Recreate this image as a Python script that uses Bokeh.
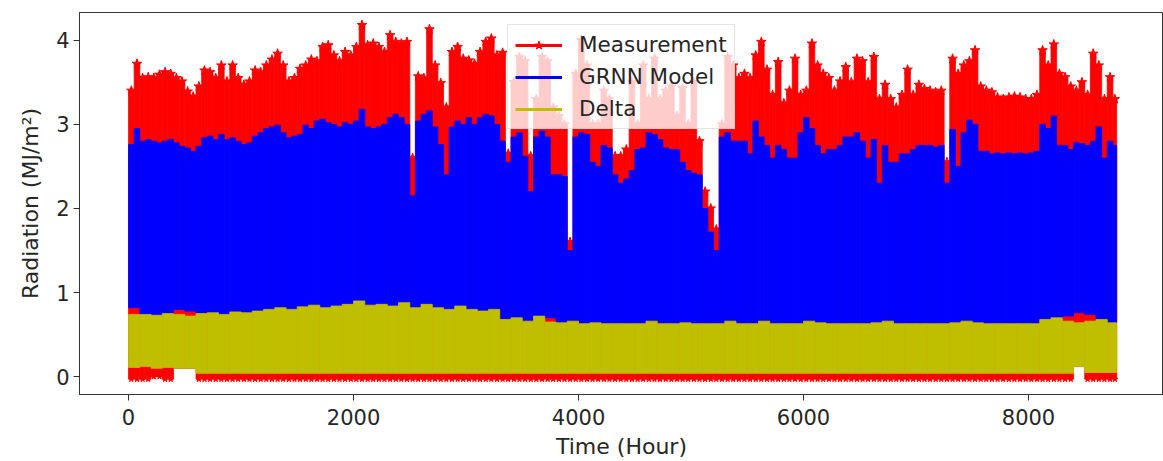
import numpy as np
from bokeh.plotting import figure
from bokeh.models import Range1d, FixedTicker, Legend, LegendItem, ColumnDataSource
from bokeh.embed import file_html
from bokeh.resources import INLINE

# ---------------- data ----------------
N_HOURS = 8784          # hourly samples over one year
FINE_BIN = 50           # hours per value in the *_peak arrays
COARSE_BIN = 100        # hours per value in the lower-band arrays

# Measurement: highest value in each 50-hour block (MJ/m^2)
meas_peak = [
    3.40, 3.72, 3.55, 3.56, 3.55, 3.59, 3.62, 3.60, 3.55, 3.51,
    3.39, 3.33, 3.45, 3.64, 3.62, 3.55, 3.70, 3.51, 3.70, 3.55,
    3.47, 3.51, 3.64, 3.62, 3.70, 3.77, 3.84, 3.70, 3.51, 3.55,
    3.66, 3.70, 3.77, 3.75, 3.92, 3.94, 3.82, 3.75, 3.86, 3.82,
    3.92, 4.18, 3.94, 3.96, 3.92, 3.86, 4.06, 3.98, 3.96, 3.98,
    2.60, 3.57, 3.55, 4.13, 3.70, 3.49, 3.20, 3.86, 3.92, 3.78,
    3.76, 3.72, 3.86, 3.98, 4.02, 3.82, 3.85, 2.65, 3.50, 3.80,
    3.75, 2.62, 3.30, 3.80, 3.75, 3.20, 3.10, 3.00, 1.60, 3.60,
    4.00, 3.70, 3.00, 3.00, 3.40, 3.30, 2.62, 2.62, 2.70, 3.50,
    3.00, 3.70, 3.30, 3.78, 3.30, 3.40, 3.45, 3.10, 3.43, 3.00,
    3.50, 2.80, 2.20, 2.00, 1.75, 3.00, 3.80, 3.70, 3.55, 3.60,
    3.55, 3.82, 3.98, 3.65, 3.35, 3.74, 3.25, 3.40, 3.78, 3.35,
    3.40, 3.96, 3.70, 3.60, 3.55, 3.40, 3.51, 3.68, 3.50, 3.78,
    3.75, 3.50, 3.80, 3.30, 3.47, 3.30, 3.20, 3.35, 3.65, 3.35,
    3.47, 3.42, 3.40, 3.38, 3.40, 2.55, 3.78, 3.60, 3.70, 3.75,
    3.88, 3.45, 3.40, 3.38, 3.32, 3.30, 3.32, 3.33, 3.32, 3.30,
    3.30, 3.35, 3.88, 3.70, 3.95, 3.60, 3.56, 3.45, 3.40, 3.50,
    3.35, 3.84, 3.70, 3.30, 3.56, 3.30,
]

# GRNN model: highest value in each 50-hour block
model_peak = [
    2.76, 2.95, 2.80, 2.82, 2.80, 2.78, 2.80, 2.82, 2.78, 2.74,
    2.72, 2.68, 2.74, 2.84, 2.86, 2.82, 2.88, 2.82, 2.84, 2.80,
    2.76, 2.78, 2.86, 2.90, 2.95, 2.97, 2.99, 2.90, 2.84, 2.86,
    2.88, 2.99, 2.95, 3.04, 3.06, 3.02, 3.00, 2.97, 3.02, 3.00,
    3.04, 3.18, 2.97, 2.95, 2.97, 3.00, 3.08, 3.12, 3.08, 3.00,
    2.15, 3.04, 3.12, 3.16, 2.97, 2.76, 2.40, 2.97, 3.04, 3.00,
    3.08, 3.00, 3.08, 3.12, 3.10, 3.00, 2.80, 2.55, 2.85, 2.90,
    2.62, 2.20, 2.85, 2.92, 2.85, 2.40, 2.40, 2.38, 1.50, 2.85,
    2.90, 2.88, 2.55, 2.50, 2.75, 2.72, 2.40, 2.30, 2.35, 2.45,
    2.70, 2.72, 2.90, 2.88, 2.82, 2.72, 2.70, 2.70, 2.55, 2.45,
    2.42, 2.40, 2.00, 1.72, 1.50, 2.85, 2.90, 2.80, 2.80, 2.80,
    2.65, 3.04, 2.85, 2.75, 2.60, 2.75, 2.70, 2.60, 2.60, 2.90,
    3.08, 2.95, 2.75, 2.65, 2.70, 2.70, 2.75, 2.85, 2.85, 2.90,
    2.80, 2.60, 2.82, 2.30, 2.75, 2.55, 2.55, 2.65, 2.65, 2.70,
    2.75, 2.75, 2.75, 2.73, 2.75, 2.30, 2.94, 2.50, 2.90, 3.05,
    3.00, 2.68, 2.68, 2.65, 2.66, 2.65, 2.66, 2.65, 2.66, 2.65,
    2.66, 2.68, 3.00, 2.95, 3.10, 2.75, 2.75, 2.70, 2.78, 2.77,
    2.75, 2.80, 2.97, 2.60, 2.80, 2.75,
]

# GRNN model: lowest value in each 100-hour block
model_low = [
    0.82, 0.74, 0.73, 0.75, 0.80, 0.78, 0.75, 0.76, 0.74, 0.77,
    0.76, 0.78, 0.80, 0.82, 0.80, 0.83, 0.85, 0.82, 0.84, 0.86,
    0.90, 0.85, 0.86, 0.84, 0.88, 0.82, 0.86, 0.82, 0.80, 0.84,
    0.80, 0.78, 0.80, 0.68, 0.70, 0.66, 0.72, 0.70, 0.64, 0.66,
    0.63, 0.64, 0.63, 0.63, 0.63, 0.63, 0.66, 0.63, 0.63, 0.64,
    0.63, 0.63, 0.63, 0.66, 0.63, 0.63, 0.66, 0.63, 0.63, 0.63,
    0.66, 0.64, 0.63, 0.63, 0.63, 0.63, 0.64, 0.66, 0.63, 0.63,
    0.63, 0.63, 0.63, 0.64, 0.66, 0.64, 0.63, 0.63, 0.63, 0.63,
    0.63, 0.68, 0.70, 0.72, 0.76, 0.74, 0.68, 0.64,
]

# Delta: highest value in each 100-hour block
delta_peak = [
    0.74, 0.74, 0.73, 0.75, 0.74, 0.72, 0.75, 0.76, 0.74, 0.77,
    0.76, 0.78, 0.80, 0.82, 0.80, 0.83, 0.85, 0.82, 0.84, 0.86,
    0.90, 0.85, 0.86, 0.84, 0.88, 0.82, 0.86, 0.82, 0.80, 0.84,
    0.80, 0.78, 0.80, 0.68, 0.70, 0.66, 0.72, 0.65, 0.64, 0.66,
    0.63, 0.64, 0.63, 0.63, 0.63, 0.63, 0.66, 0.63, 0.63, 0.64,
    0.63, 0.63, 0.63, 0.66, 0.63, 0.63, 0.66, 0.63, 0.63, 0.63,
    0.66, 0.64, 0.63, 0.63, 0.63, 0.63, 0.64, 0.66, 0.63, 0.63,
    0.63, 0.63, 0.63, 0.64, 0.66, 0.64, 0.63, 0.63, 0.63, 0.63,
    0.63, 0.68, 0.70, 0.66, 0.64, 0.66, 0.68, 0.64,
]

# Delta: lowest value in each 100-hour block
delta_low = [
    0.11, 0.12, 0.10, 0.11, 0.10, 0.10, 0.04, 0.04, 0.04, 0.04,
    0.04, 0.04, 0.04, 0.04, 0.04, 0.04, 0.04, 0.04, 0.04, 0.04,
    0.04, 0.04, 0.04, 0.04, 0.04, 0.04, 0.04, 0.04, 0.04, 0.04,
    0.04, 0.04, 0.04, 0.04, 0.04, 0.04, 0.04, 0.04, 0.04, 0.04,
    0.04, 0.04, 0.04, 0.04, 0.04, 0.04, 0.04, 0.04, 0.04, 0.04,
    0.04, 0.04, 0.04, 0.04, 0.04, 0.04, 0.04, 0.04, 0.04, 0.04,
    0.04, 0.04, 0.04, 0.04, 0.04, 0.04, 0.04, 0.04, 0.04, 0.04,
    0.04, 0.04, 0.04, 0.04, 0.04, 0.04, 0.04, 0.04, 0.04, 0.04,
    0.04, 0.04, 0.04, 0.04, 0.12, 0.05, 0.05, 0.05,
]

# Measurement: lowest value in each 100-hour block
meas_low = [
    -0.03, -0.03, 0.00, -0.03, 0.10, 0.10, -0.03, -0.03, -0.03, -0.03,
    -0.03, -0.03, -0.03, -0.03, -0.03, -0.03, -0.03, -0.03, -0.03, -0.03,
    -0.03, -0.03, -0.03, -0.03, -0.03, -0.03, -0.03, -0.03, -0.03, -0.03,
    -0.03, -0.03, -0.03, -0.03, -0.03, -0.03, -0.03, -0.03, -0.03, -0.03,
    -0.03, -0.03, -0.03, -0.03, -0.03, -0.03, -0.03, -0.03, -0.03, -0.03,
    -0.03, -0.03, -0.03, -0.03, -0.03, -0.03, -0.03, -0.03, -0.03, -0.03,
    -0.03, -0.03, -0.03, -0.03, -0.03, -0.03, -0.03, -0.03, -0.03, -0.03,
    -0.03, -0.03, -0.03, -0.03, -0.03, -0.03, -0.03, -0.03, -0.03, -0.03,
    -0.03, -0.03, -0.03, -0.03, 0.12, -0.03, -0.03, -0.03,
]

x_ticks = [0, 2000, 4000, 6000, 8000]
y_ticks = [0, 1, 2, 3, 4]
series_labels = ["Measurement", "GRNN Model", "Delta"]

RED = "#ff0000"
BLUE = "#0000ff"
YELLOW = "#bfbf00"
FONT = "DejaVu Sans"
TXT = "#262626"
SPINE = "#333333"

# ---------------- build sources ----------------
n_fine = len(meas_peak)
f_left = np.arange(n_fine) * FINE_BIN
f_right = np.minimum(f_left + FINE_BIN, N_HOURS)
f_center = (f_left + f_right) / 2.0
coarse_idx = np.arange(n_fine) // (COARSE_BIN // FINE_BIN)

n_coarse = len(delta_peak)
c_left = np.arange(n_coarse) * COARSE_BIN
c_right = np.minimum(c_left + COARSE_BIN, N_HOURS)

meas_low_arr = np.array(meas_low)
model_low_arr = np.array(model_low)

meas_src = ColumnDataSource(dict(
    left=f_left, right=f_right, bottom=meas_low_arr[coarse_idx],
    top=np.array(meas_peak), xc=f_center,
))
model_src = ColumnDataSource(dict(
    left=f_left, right=f_right, bottom=model_low_arr[coarse_idx],
    top=np.array(model_peak),
))
delta_src = ColumnDataSource(dict(
    left=c_left, right=c_right, bottom=np.array(delta_low), top=np.array(delta_peak),
))
low_mask = meas_low_arr[coarse_idx] < 0.05
bottom_src = ColumnDataSource(dict(
    x=f_center[low_mask], y=meas_low_arr[coarse_idx][low_mask],
))

# ---------------- figure ----------------
p = figure(
    width=1163, height=461,
    output_backend="svg", toolbar_location=None,
    x_range=Range1d(-436, 9200), y_range=Range1d(-0.212, 4.33),
    min_border_left=79, min_border_right=0, min_border_top=12, min_border_bottom=64,
    background_fill_color="white", border_fill_color="white",
)
p.xgrid.visible = False
p.ygrid.visible = False
p.outline_line_color = SPINE
p.outline_line_width = 1

# Measurement band + star markers
p.quad(left="left", right="right", bottom="bottom", top="top", source=meas_src,
       fill_color=RED, line_color=RED, line_width=0.8)
p.scatter(x="xc", y="top", source=meas_src, marker="star", size=10,
          fill_color=RED, line_color=RED)
p.scatter(x="x", y="y", source=bottom_src, marker="star", size=6,
          fill_color=RED, line_color=RED)
# GRNN model band
p.quad(left="left", right="right", bottom="bottom", top="top", source=model_src,
       fill_color=BLUE, line_color=BLUE, line_width=0.8)
# Delta band
p.quad(left="left", right="right", bottom="bottom", top="top", source=delta_src,
       fill_color=YELLOW, line_color=YELLOW, line_width=0.8)

# legend proxies (a single NaN point: nothing is drawn in the plot area)
def proxy():
    return ColumnDataSource(dict(x=[float("nan")], y=[float("nan")]))

l_meas = p.line(x="x", y="y", source=proxy(), line_color=RED, line_width=3)
s_meas = p.scatter(x="x", y="y", source=proxy(), marker="star", size=12,
                   fill_color=RED, line_color=RED)
l_model = p.line(x="x", y="y", source=proxy(), line_color=BLUE, line_width=3)
l_delta = p.line(x="x", y="y", source=proxy(), line_color=YELLOW, line_width=3)

legend = Legend(
    items=[
        LegendItem(label=series_labels[0], renderers=[l_meas, s_meas]),
        LegendItem(label=series_labels[1], renderers=[l_model]),
        LegendItem(label=series_labels[2], renderers=[l_delta]),
    ],
    location=(428, 265),
    label_text_font=FONT, label_text_font_size="21.5px", label_text_color=TXT,
    glyph_width=47, glyph_height=22, label_height=22, label_standoff=17,
    spacing=7, padding=7, margin=0,
    background_fill_color="white", background_fill_alpha=0.8,
    border_line_color="#cccccc", border_line_width=1,
)
p.add_layout(legend)

# axes
for ax in (p.xaxis[0], p.yaxis[0]):
    ax.axis_line_color = SPINE
    ax.major_tick_line_color = SPINE
    ax.major_tick_out = 6
    ax.major_tick_in = 0
    ax.minor_tick_out = 0
    ax.minor_tick_in = 0
    ax.major_label_text_font = FONT
    ax.major_label_text_font_size = "21px"
    ax.major_label_text_color = TXT
    ax.axis_label_text_font = FONT
    ax.axis_label_text_font_size = "22px"
    ax.axis_label_text_font_style = "normal"
    ax.axis_label_text_color = TXT

p.xaxis.ticker = FixedTicker(ticks=x_ticks)
p.yaxis.ticker = FixedTicker(ticks=y_ticks)
p.xaxis.axis_label = "Time (Hour)"
p.yaxis.axis_label = "Radiation (MJ/m²)"
p.xaxis.major_label_standoff = 8
p.xaxis.axis_label_standoff = 6
p.yaxis.major_label_standoff = 4
p.yaxis.axis_label_standoff = 10

open("out.html", "w").write(file_html(p, INLINE))
